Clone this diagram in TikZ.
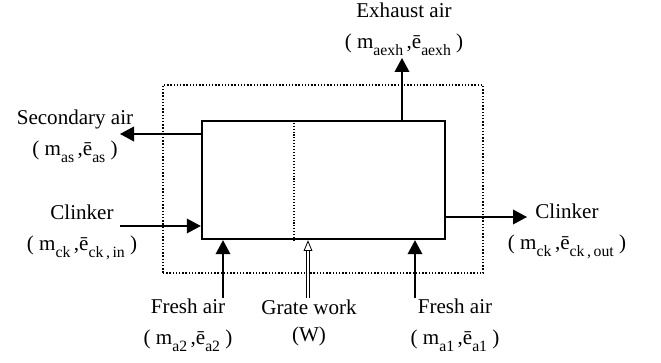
\documentclass[tikz,border=0pt]{standalone}
\usepackage{fontspec}
\setmainfont{Liberation Serif}
\usetikzlibrary{positioning, calc, arrows.meta}
\newcommand{\lowidx}[1]{\raisebox{-0.32em}{\fontsize{11.8}{12}\selectfont #1}}

\begin{document}
\begin{tikzpicture}[
    x=0.75pt, y=-0.75pt,
    every node/.style={font=\fontsize{15.8}{23.5}\selectfont, inner sep=0pt},
    cooler/.style={rectangle, draw, line width=1.8pt,
                   minimum width=182.25pt, minimum height=88.5pt},
    boundary/.style={rectangle, draw, line width=1.1pt,
                     dash pattern=on 1.1pt off 1.3pt,
                     minimum width=240pt, minimum height=141pt},
    divider/.style={line width=0.8pt, dash pattern=on 0.8pt off 1.4pt},
    flow/.style={-{Triangle[length=10.5pt, width=11pt]}, line width=1.1pt},
    work/.style={double, double distance=1.6pt, line width=0.6pt,
                 -{Triangle[open, length=8pt, width=6.5pt]}},
    tag/.style={align=center, anchor=base},
  ]
    \useasboundingbox (0,0) rectangle (661,363);

    % control volume and cooler
    \node[boundary] (cv) at (323,179) {};
    \node[cooler] (box) at (323.5,180) {};
    \coordinate (split) at (294,180);
    \draw[divider] (box.north -| split) -- (box.south -| split);

    % free ends of the streams
    \coordinate (exhtip) at (402,58);
    \coordinate (astip) at (120,134);
    \coordinate (ckin) at (120,226);
    \coordinate (ckout) at (527,217);
    \coordinate (a2) at (223,298);
    \coordinate (gw) at (308,298);
    \coordinate (a1) at (415,298);

    \draw[flow] (box.north -| exhtip) -- (exhtip);
    \draw[flow] (box.west |- astip) -- (astip);
    \draw[flow] (ckin) -- (box.west |- ckin);
    \draw[flow] (box.east |- ckout) -- (ckout);
    \draw[flow] (a2) -- (box.south -| a2);
    \draw[work] (gw) -- (box.south -| gw);
    \draw[flow] (a1) -- (box.south -| a1);

    % stream labels (base = last line)
    \node[tag] (exh) at (404,49)
         {Exhaust air\\( m\lowidx{aexh}\,,\=e\lowidx{aexh} )};
    \node[tag] (sa) at (75,156)
         {Secondary air\\( m\lowidx{as}\,,\=e\lowidx{as} )};
    \node[tag] (ckinlbl) at (82,251)
         {Clinker\\( m\lowidx{ck}\,,\=e\lowidx{ck\,,\,in} )};
    \node[tag] (ckoutlbl) at (567,250)
         {Clinker\\( m\lowidx{ck}\,,\=e\lowidx{ck\,,\,out} )};
    \node[tag] (fa2) at (188,345)
         {Fresh air\\( m\lowidx{a2}\,,\=e\lowidx{a2} )};
    \node[tag] (gwlbl) at (309,342) {Grate work\\[-3pt](W)};
    \node[tag] (fa1) at (455,345)
         {Fresh air\\( m\lowidx{a1}\,,\=e\lowidx{a1} )};
  \end{tikzpicture}
\end{document}
